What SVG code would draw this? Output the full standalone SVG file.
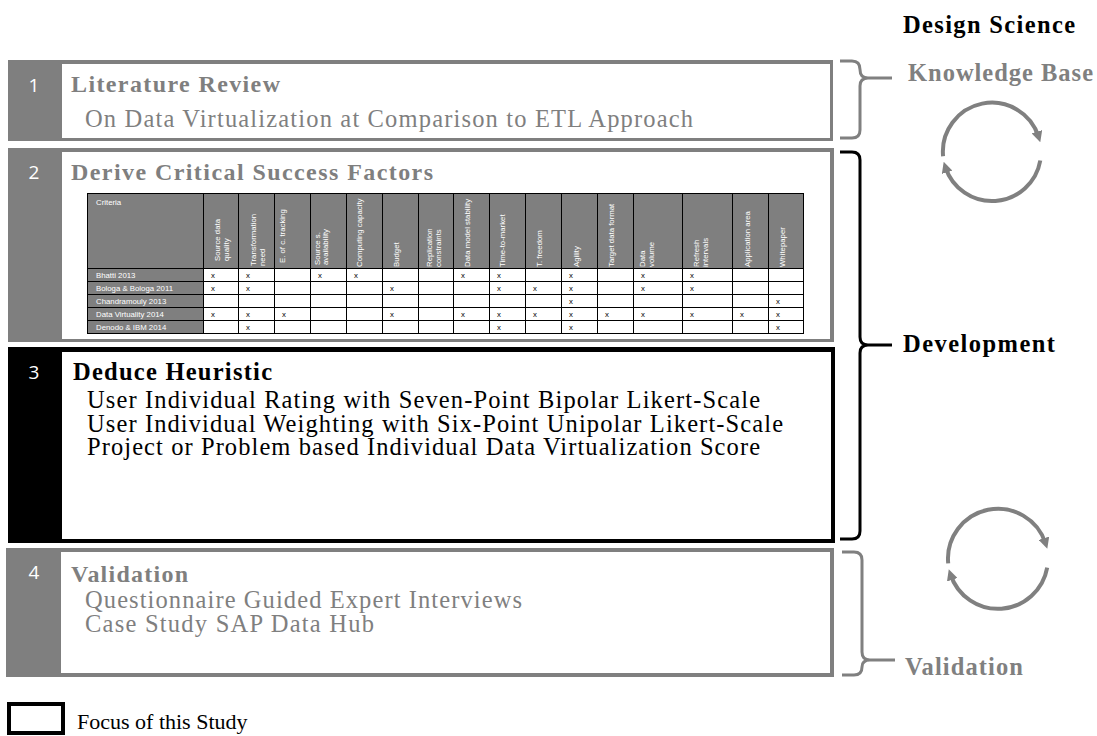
<svg xmlns="http://www.w3.org/2000/svg" width="1097" height="736" viewBox="0 0 1097 736">
<style>
.serif{font-family:"Liberation Serif","Times New Roman",serif;}
.b{font-weight:bold;}
.g{fill:#7f7f7f;}
.k{fill:#000;}
.num{font-family:"Open Sans","Liberation Sans",sans-serif;font-size:19px;fill:#fff;text-anchor:middle;}
.t{font-family:"Liberation Sans",Arial,sans-serif;font-size:7.8px;}
.hw{fill:#fff;}
.grid{stroke:#000;stroke-width:1;fill:none;}
.brace{fill:none;stroke-width:3;stroke-linecap:butt;}
.cyc{fill:none;stroke:#808080;stroke-width:4;}
</style>
<defs>
<marker id="arr" viewBox="0 0 10 10" refX="5" refY="5" markerWidth="11" markerHeight="11" markerUnits="userSpaceOnUse" orient="auto"><path d="M0,0 L10,5 L0,10 z" fill="#808080"/></marker>
</defs>
<rect width="1097" height="736" fill="#fff"/>

<text class="serif b k" x="903" y="33" font-size="24.5" textLength="172" lengthAdjust="spacing">Design Science</text>

<g id="step1">
<rect x="8" y="60" width="825" height="81" fill="#7f7f7f"/>
<rect x="62" y="64" width="768" height="74" fill="#fff"/>
<text class="num" x="34" y="92">1</text>
<text class="serif b g" x="71" y="92" font-size="24" textLength="209" lengthAdjust="spacing">Literature Review</text>
<text class="serif g" x="85" y="127" font-size="24.5" textLength="608" lengthAdjust="spacing">On Data Virtualization  at Comparison to ETL Approach</text>
</g>

<g id="step2">
<rect x="8" y="148" width="826" height="194" fill="#7f7f7f"/>
<rect x="62" y="152" width="768" height="187" fill="#fff"/>
<text class="num" x="34" y="179">2</text>
<text class="serif b g" x="71" y="180" font-size="24" textLength="362" lengthAdjust="spacing">Derive Critical Success Factors</text>
<g id="table">
<rect x="87" y="193" width="716" height="75" fill="#7f7f7f"/>
<rect x="87" y="268" width="116" height="65" fill="#7f7f7f"/>
<rect x="203" y="268" width="600" height="65" fill="#fff"/>
<path class="grid" d="M87,193.5H803 M87,268.5H803 M87,281.5H803 M87,294.5H803 M87,307.5H803 M87,320.5H803 M87,333.5H803
M87.5,193V334 M203.5,193V334 M238.5,193V334 M274.5,193V334 M310.5,193V334 M346.5,193V334 M382.5,193V334 M418.5,193V334 M453.5,193V334 M489.5,193V334 M525.5,193V334 M561.5,193V334 M597.5,193V334 M633.5,193V334 M682.5,193V334 M732.5,193V334 M768.5,193V334 M803.5,193V334"/>
<g class="t hw">
<text x="96" y="205">Criteria</text>
<text x="96" y="278">Bhatti 2013</text>
<text x="96" y="291">Bologa &amp; Bologa 2011</text>
<text x="96" y="304">Chandramouly 2013</text>
<text x="96" y="317">Data Virtuality 2014</text>
<text x="96" y="330">Denodo &amp; IBM 2014</text>
<text transform="translate(220,261) rotate(-90)">Source data</text>
<text transform="translate(229,261) rotate(-90)">quality</text>
<text transform="translate(256,266) rotate(-90)">Transformation</text>
<text transform="translate(265,266) rotate(-90)">need</text>
<text transform="translate(285,263) rotate(-90)">E. of c. tracking</text>
<text transform="translate(320,265) rotate(-90)">Source s.</text>
<text transform="translate(328,265) rotate(-90)">availability</text>
<text transform="translate(362,267) rotate(-90)">Computing capacity</text>
<text transform="translate(399,267) rotate(-90)">Budget</text>
<text transform="translate(432,267) rotate(-90)">Replication</text>
<text transform="translate(441,267) rotate(-90)">constraints</text>
<text transform="translate(470,267) rotate(-90)">Data model stability</text>
<text transform="translate(505,267) rotate(-90)">Time-to-market</text>
<text transform="translate(542,267) rotate(-90)">T. freedom</text>
<text transform="translate(579,267) rotate(-90)">Agility</text>
<text transform="translate(614,267) rotate(-90)">Target data format</text>
<text transform="translate(645,267) rotate(-90)">Data</text>
<text transform="translate(654,267) rotate(-90)">volume</text>
<text transform="translate(699,267) rotate(-90)">Refresh</text>
<text transform="translate(708,267) rotate(-90)">intervals</text>
<text transform="translate(750,267) rotate(-90)">Application area</text>
<text transform="translate(785,267) rotate(-90)">Whitepaper</text>
</g>
<g class="t k">
<text x="211" y="278">x</text><text x="246" y="278">x</text><text x="318" y="278">x</text><text x="354" y="278">x</text><text x="461" y="278">x</text><text x="497" y="278">x</text><text x="569" y="278">x</text><text x="641" y="278">x</text><text x="690" y="278">x</text>
<text x="211" y="291">x</text><text x="246" y="291">x</text><text x="390" y="291">x</text><text x="497" y="291">x</text><text x="533" y="291">x</text><text x="569" y="291">x</text><text x="641" y="291">x</text><text x="690" y="291">x</text>
<text x="569" y="304">x</text><text x="776" y="304">x</text>
<text x="211" y="317">x</text><text x="246" y="317">x</text><text x="282" y="317">x</text><text x="390" y="317">x</text><text x="461" y="317">x</text><text x="497" y="317">x</text><text x="533" y="317">x</text><text x="569" y="317">x</text><text x="605" y="317">x</text><text x="641" y="317">x</text><text x="690" y="317">x</text><text x="740" y="317">x</text><text x="776" y="317">x</text>
<text x="246" y="330">x</text><text x="497" y="330">x</text><text x="569" y="330">x</text><text x="776" y="330">x</text>
</g>
</g>
</g>

<g id="step3">
<rect x="8" y="347" width="827" height="196" fill="#000"/>
<rect x="62" y="352" width="769" height="187" fill="#fff"/>
<text class="num" x="34" y="379">3</text>
<text class="serif b k" x="73" y="380" font-size="24.5" textLength="199" lengthAdjust="spacing">Deduce Heuristic</text>
<text class="serif k" x="87" y="408" font-size="24.5" textLength="673" lengthAdjust="spacing">User Individual Rating with Seven-Point Bipolar Likert-Scale</text>
<text class="serif k" x="87" y="432" font-size="24.5" textLength="696" lengthAdjust="spacing">User Individual Weighting with Six-Point Unipolar Likert-Scale</text>
<text class="serif k" x="87" y="455" font-size="24.5" textLength="673" lengthAdjust="spacing">Project or Problem based Individual  Data Virtualization Score</text>
</g>

<g id="step4">
<rect x="6" y="548" width="828" height="129" fill="#7f7f7f"/>
<rect x="61" y="552" width="769" height="121" fill="#fff"/>
<text class="num" x="34" y="579">4</text>
<text class="serif b g" x="71" y="582" font-size="24" textLength="117" lengthAdjust="spacing">Validation</text>
<text class="serif g" x="85" y="608" font-size="24.5" textLength="437" lengthAdjust="spacing">Questionnaire Guided Expert Interviews</text>
<text class="serif g" x="85" y="632" font-size="24.5" textLength="289" lengthAdjust="spacing">Case Study SAP Data Hub</text>
</g>

<g id="knowledge-base">
<text class="serif b" fill="#808080" x="908" y="81" font-size="24.5" textLength="185" lengthAdjust="spacing">Knowledge Base</text>
</g>
<g id="development">
<text class="serif b k" x="903" y="352" font-size="24.5" textLength="152" lengthAdjust="spacing">Development</text>
</g>
<g id="validation-label">
<text class="serif b" fill="#808080" x="905" y="675" font-size="24.5" textLength="118" lengthAdjust="spacing">Validation</text>
</g>

<g id="legend">
<rect x="9" y="704" width="54" height="29" fill="#fff" stroke="#000" stroke-width="4"/>
<text class="serif k" x="77" y="729" font-size="22">Focus of this Study</text>
</g>

<g id="connectors">
<path class="brace" stroke="#808080" d="M840,61 H852 Q860,61 860,69.5 Q860,78 868,78 H892 M868,78 Q860,78 860,86 V130 Q860,138 852,138 H840"/>
<path class="brace" stroke="#000" d="M840,152 H852 Q860,152 860,160 V337 Q860,345 868,345 H892 M868,345 Q860,345 860,353 V531 Q860,539 852,539 H840"/>
<path class="brace" stroke="#808080" d="M842,552 H854 Q862,552 862,560 V652 Q862,660 870,660 H895 M870,660 Q862,660 862,667 Q862,675 854,675 H842"/>
<path class="cyc" marker-end="url(#arr)" d="M943.1,156.3 A49,49 0 0,1 1038.6,136.9"/>
<path class="cyc" marker-end="url(#arr)" d="M1040.3,160.5 A49,49 0 0,1 945.4,167.1"/>
<path class="cyc" marker-end="url(#arr)" d="M948.2,563.4 A50,50 0 0,1 1045.6,543.5"/>
<path class="cyc" marker-end="url(#arr)" d="M1047.2,567.7 A50,50 0 0,1 950.5,574.5"/>
</g>
</svg>
